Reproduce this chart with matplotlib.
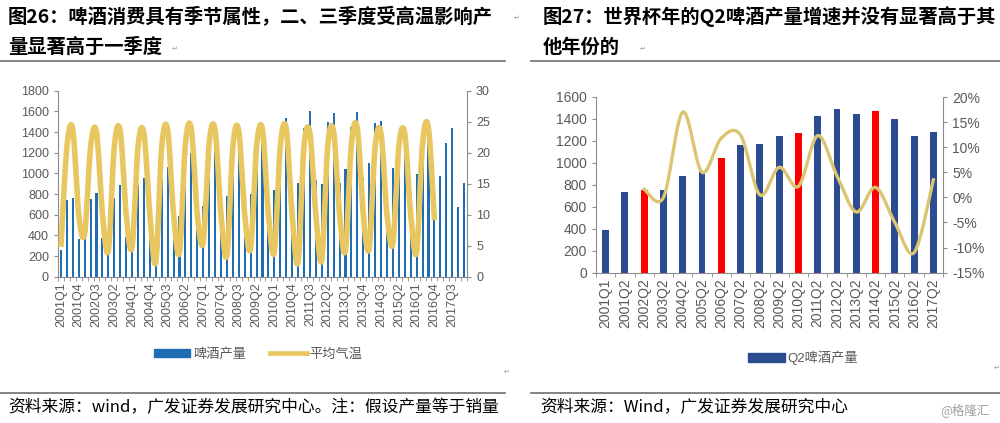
import numpy as np
import matplotlib.pyplot as plt
from matplotlib.lines import Line2D
from matplotlib.patches import Patch

plt.rcParams['font.family'] = ['Liberation Sans', 'Noto Sans CJK SC', 'DejaVu Sans']

# ---------- 图26 数据 ----------
quarters = [f"{y}Q{q}" for y in range(2001, 2019) for q in range(1, 5)][:69]
beer = [258, 742, 765, 365,
        404, 750, 807, 374,
        436, 759, 888, 387,
        523, 888, 952, 500,
        470, 935, 1058, 560,
        590, 1048, 1194, 600,
        688, 1170, 1310, 742,
        781, 1180, 1370, 774,
        800, 1245, 1452, 759,
        840, 1275, 1533, 823,
        910, 1436, 1604, 936,
        894, 1500, 1581, 910,
        1040, 1446, 1597, 962,
        1097, 1485, 1507, 823,
        1049, 1404, 1420, 823,
        991, 1245, 1400, 720,
        975, 1297, 1443, 678,
        907]
temp = [4.8, 21.0, 23.7, 10.0,
        7.0, 21.0, 23.3, 10.0,
        4.3, 21.0, 23.5, 10.0,
        4.8, 21.0, 23.1, 10.0,
        2.4, 21.0, 23.7, 10.0,
        4.0, 21.5, 23.8, 10.0,
        5.6, 21.5, 23.7, 10.0,
        3.5, 21.0, 23.5, 10.0,
        4.6, 21.0, 23.7, 10.0,
        4.0, 21.0, 23.9, 10.0,
        2.4, 21.0, 23.1, 10.0,
        2.7, 21.0, 23.4, 10.0,
        4.3, 21.5, 23.9, 10.0,
        4.6, 21.0, 23.1, 10.0,
        5.4, 21.0, 23.1, 10.0,
        4.0, 21.5, 24.0, 9.1]

# ---------- 图27 数据 ----------
q2_labels = ['2001Q1', '2001Q2', '2002Q2', '2003Q2', '2004Q2', '2005Q2', '2006Q2',
             '2007Q2', '2008Q2', '2009Q2', '2010Q2', '2011Q2', '2012Q2', '2013Q2',
             '2014Q2', '2015Q2', '2016Q2', '2017Q2']
q2_beer = [388, 739, 751, 757, 885, 927, 1045, 1167, 1176, 1245, 1273, 1430,
           1491, 1448, 1476, 1397, 1245, 1285]
worldcup = ['2002Q2', '2006Q2', '2010Q2', '2014Q2']
growth = [1.6, 0.0, 17.0, 5.0, 11.8, 12.4, 0.5, 6.0, 2.2, 12.3, 4.3, -2.9, 2.0,
          -5.0, -11.0, 3.5]   # 2002Q2 起, %

W, H = 1000, 423


def smooth(x, y, n=20):
    # Excel 式平滑线 (Bezier, 1/6 张力)
    x = np.asarray(x, float)
    y = np.asarray(y, float)
    px, py = [], []
    for i in range(len(x) - 1):
        i0, i3 = max(i - 1, 0), min(i + 2, len(x) - 1)
        c1x = x[i] + (x[i + 1] - x[i0]) / 6
        c1y = y[i] + (y[i + 1] - y[i0]) / 6
        c2x = x[i + 1] - (x[i3] - x[i]) / 6
        c2y = y[i + 1] - (y[i3] - y[i]) / 6
        t = np.linspace(0, 1, n, endpoint=False)
        b = [(1 - t) ** 3, 3 * (1 - t) ** 2 * t, 3 * (1 - t) * t ** 2, t ** 3]
        px.append(b[0] * x[i] + b[1] * c1x + b[2] * c2x + b[3] * x[i + 1])
        py.append(b[0] * y[i] + b[1] * c1y + b[2] * c2y + b[3] * y[i + 1])
    px.append([x[-1]])
    py.append([y[-1]])
    return np.concatenate(px), np.concatenate(py)


def box(x0, y0, x1, y1):
    return [x0 / W, 1 - y1 / H, (x1 - x0) / W, (y1 - y0) / H]


def style(ax, spines):
    for s in ['top', 'right', 'left', 'bottom']:
        ax.spines[s].set_visible(s in spines)
        ax.spines[s].set_color('#8c8c8c')
    ax.tick_params(colors='#8c8c8c', labelcolor='#595959', labelsize=9, length=3)


fig = plt.figure(figsize=(10, 4.23), dpi=100)

# 标题
tfont = dict(family=['Noto Sans CJK SC'], fontweight='bold', fontsize=13.9, color='black', va='center')
fig.text(8 / W, 1 - 17 / H, '图26：啤酒消费具有季节属性，二、三季度受高温影响产', **tfont)
fig.text(8 / W, 1 - 47 / H, '量显著高于一季度', **tfont)
fig.text(543 / W, 1 - 17 / H, '图27：世界杯年的Q2啤酒产量增速并没有显著高于其', **tfont)
fig.text(543 / W, 1 - 47 / H, '他年份的', **tfont)
for x, y in [(514, 18), (172, 49), (640, 49), (504, 372), (994, 368)]:
    fig.text(x / W, 1 - y / H, '↵', fontsize=5, color='#999999', va='center', family=['DejaVu Sans'])

for x0, x1, y in [(0, 505, 61), (531, 1000, 61), (0, 505, 393), (531, 1000, 393)]:
    fig.add_artist(Line2D([x0 / W, x1 / W], [1 - y / H, 1 - y / H], transform=fig.transFigure,
                          color='#6e6e6e', lw=1.2))

sfont = dict(family=['Noto Sans CJK SC'], fontsize=12.1, color='black', va='center')
fig.text(8 / W, 1 - 408 / H, '资料来源：wind，广发证券发展研究中心。注：假设产量等于销量', **sfont)
fig.text(540 / W, 1 - 408 / H, '资料来源：Wind，广发证券发展研究中心', **sfont)
fig.text(940 / W, 1 - 410 / H, '@格隆汇', family=['Noto Sans CJK SC'], fontsize=9,
         color='#a0a0a0', va='center')

# ---------- 左图 ----------
ax = fig.add_axes(box(58, 90.7, 467, 276.7))
xs = np.arange(len(beer))
ax.bar(xs, beer, width=0.35, color='#1f6eb5')
ax.set_xlim(-0.5, len(beer) - 0.5)
ax.set_ylim(0, 1800)
ax.set_yticks(range(0, 1801, 200))
ax.set_xticks(xs[::3])
ax.set_xticklabels(quarters[::3], rotation=90)
ax.set_xticks(np.arange(-0.5, len(beer)), minor=True)
style(ax, ['left', 'bottom'])
ax.tick_params(axis='x', which='major', length=0, pad=4)
ax.tick_params(axis='x', which='minor', length=3, color='#8c8c8c')

ax2 = ax.twinx()
sx, sy = smooth(np.arange(len(temp)), temp)
ax2.plot(sx, sy, color='#e8c660', lw=4.0, solid_capstyle='butt')
ax2.set_ylim(0, 30)
ax2.set_yticks(range(0, 31, 5))
style(ax2, ['right'])

fig.legend(handles=[Patch(color='#1f6eb5', label='啤酒产量'),
                    Line2D([], [], color='#e8c660', lw=3.4, label='平均气温')],
           loc='center', bbox_to_anchor=(258 / W, 1 - 354 / H), ncol=2, frameon=False,
           prop={'family': ['Noto Sans CJK SC'], 'size': 9.5}, handlelength=2.8,
           handleheight=0.5, columnspacing=1.8, handletextpad=0.2, labelcolor='#595959')

# ---------- 右图 ----------
bx = fig.add_axes(box(596, 97, 943, 272.7))
xs2 = np.arange(len(q2_beer))
colors = ['#ff0000' if q in worldcup else '#2b4c91' for q in q2_labels]
bx.bar(xs2, q2_beer, width=0.36, color=colors)
bx.set_xlim(-0.5, len(q2_beer) - 0.5)
bx.set_ylim(0, 1600)
bx.set_yticks(range(0, 1601, 200))
bx.set_xticks(xs2)
bx.set_xticklabels(q2_labels, rotation=90)
bx.set_xticks(np.arange(-0.5, len(q2_beer)), minor=True)
style(bx, ['left', 'bottom'])
bx.tick_params(labelsize=10)
bx.tick_params(axis='x', which='major', length=0, pad=4)
bx.tick_params(axis='x', which='minor', length=3, color='#8c8c8c')

bx2 = bx.twinx()
gx, gy = smooth(np.arange(2, len(q2_beer)), growth)
bx2.plot(gx, gy, color='#dcc572', lw=2.4)
bx2.set_ylim(-15, 20)
bx2.set_yticks(range(-15, 21, 5))
bx2.set_yticklabels([f'{v}%' for v in range(-15, 21, 5)])
style(bx2, ['right'])
bx2.tick_params(labelsize=10)

fig.legend(handles=[Patch(color='#2b4c91', label='Q2啤酒产量')],
           loc='center', bbox_to_anchor=(803 / W, 1 - 358 / H), frameon=False,
           prop={'family': ['Liberation Sans', 'Noto Sans CJK SC'], 'size': 9.5},
           handlelength=2.8, handleheight=0.6, handletextpad=0.2, labelcolor='#595959')

fig.savefig('out.png', dpi=100)
